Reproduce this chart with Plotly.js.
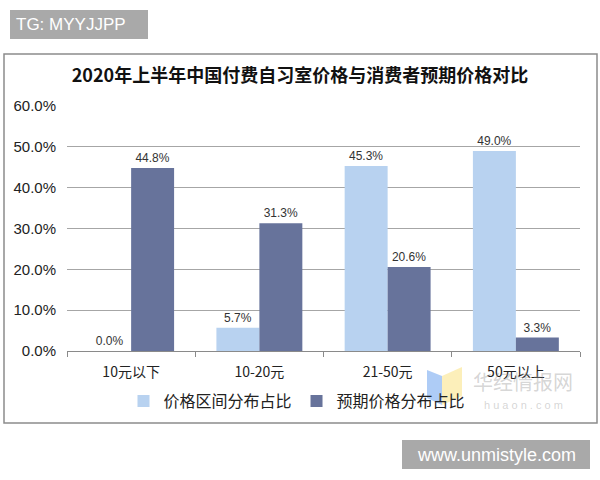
<!DOCTYPE html>
<html>
<head>
<meta charset="utf-8">
<script src="https://cdn.plot.ly/plotly-3.0.1.min.js"></script>
<style>html,body{margin:0;padding:0;background:#fff;}#chart{width:600px;height:480px;}</style>
</head>
<body>
<div id="chart"></div>
<script>
var categories = ["10元以下", "10-20元", "21-50元", "50元以上"];
var seriesNames = ["价格区间分布占比", "预期价格分布占比"];
var priceShare = [0.0, 5.7, 45.3, 49.0];
var expectedShare = [44.8, 31.3, 20.6, 3.3];
var yTicks = [0, 10, 20, 30, 40, 50, 60];
var yTickText = ["0.0%", "10.0%", "20.0%", "30.0%", "40.0%", "50.0%", "60.0%"];

var W = 600, H = 480, L = 67, R = 20, T = 106, B = 129;
var pw = W - L - R, ph = H - T - B;
function px(x) { return (x - L) / pw; }
function py(y) { return (H - B - y) / ph; }

function fmt(v) { return v.toFixed(1) + "%"; }

var traces = [
  {
    type: "bar", name: seriesNames[0], x: categories, y: priceShare,
    marker: {color: "#b8d2f0"},
    text: priceShare.map(fmt), textposition: "outside", cliponaxis: false,
    textfont: {family: "Liberation Sans, Arial, sans-serif", size: 12, color: "#333"}
  },
  {
    type: "bar", name: seriesNames[1], x: categories, y: expectedShare,
    marker: {color: "#67739b"},
    text: expectedShare.map(fmt), textposition: "outside", cliponaxis: false,
    textfont: {family: "Liberation Sans, Arial, sans-serif", size: 12, color: "#333"}
  }
];

var layout = {
  width: W, height: H,
  margin: {l: L, r: R, t: T, b: B},
  paper_bgcolor: "#fff", plot_bgcolor: "#fff",
  barmode: "group", bargap: 0.33, bargroupgap: 0,
  title: {
    text: "<b>2020年上半年中国付费自习室价格与消费者预期价格对比</b>",
    font: {family: "Noto Sans CJK SC, sans-serif", size: 18, color: "#111"},
    x: 0.5, xanchor: "center", xref: "container", y: 1 - 76 / H, yanchor: "middle", yref: "container"
  },
  xaxis: {
    type: "category", showgrid: false, showline: true, linecolor: "#8a8a8a", linewidth: 1,
    ticks: "outside", tickson: "boundaries", ticklen: 5, tickcolor: "#8a8a8a",
    ticklabelstandoff: 8,
    tickfont: {family: "Noto Sans CJK SC, sans-serif", size: 14, color: "#222"},
    fixedrange: true
  },
  yaxis: {
    range: [0, 60], tickvals: yTicks, ticktext: yTickText,
    showgrid: true, gridcolor: "#a6a6a6", gridwidth: 1, zeroline: false, showline: false,
    ticks: "", ticklabelstandoff: 10,
    tickfont: {family: "Liberation Sans, Arial, sans-serif", size: 15, color: "#222"},
    fixedrange: true
  },
  showlegend: true,
  legend: {
    orientation: "h", x: px(297), xanchor: "center", y: py(401), yanchor: "middle",
    font: {family: "Noto Sans CJK SC, sans-serif", size: 16, color: "#222"},
    itemwidth: 30, tracegroupgap: 0, bgcolor: "rgba(0,0,0,0)"
  },
  shapes: [
    {type: "rect", xref: "paper", yref: "paper", x0: px(4), x1: px(597), y0: py(54), y1: py(423),
     line: {color: "#8c8c8c", width: 1.5}, fillcolor: "rgba(0,0,0,0)", layer: "below"},
    {type: "rect", xref: "paper", yref: "paper", x0: px(10), x1: px(148), y0: py(10), y1: py(39),
     line: {width: 0}, fillcolor: "#a9a9a9", layer: "above"},
    {type: "rect", xref: "paper", yref: "paper", x0: px(402), x1: px(590), y0: py(440), y1: py(469),
     line: {width: 0}, fillcolor: "#a9a9a9", layer: "above"},
    {type: "path", xref: "paper", yref: "paper",
     path: "M " + px(427) + "," + py(370) + " L " + px(442) + "," + py(376) + " L " + px(442) + "," + py(405) + " L " + px(427) + "," + py(398) + " Z",
     line: {width: 0}, fillcolor: "rgba(120,170,240,0.6)", layer: "below"},
    {type: "path", xref: "paper", yref: "paper",
     path: "M " + px(442) + "," + py(376) + " L " + px(462) + "," + py(367) + " L " + px(462) + "," + py(396) + " L " + px(442) + "," + py(405) + " Z",
     line: {width: 0}, fillcolor: "rgba(250,228,140,0.6)", layer: "below"}
  ],
  annotations: [
    {xref: "paper", yref: "paper", x: px(14), y: py(24.5), xanchor: "left", yanchor: "middle",
     text: "TG: MYYJJPP", showarrow: false,
     font: {family: "Liberation Sans, Arial, sans-serif", size: 17, color: "#fff"}},
    {xref: "paper", yref: "paper", x: px(496), y: py(454.5), xanchor: "center", yanchor: "middle",
     text: "www.unmistyle.com", showarrow: false,
     font: {family: "Liberation Sans, Arial, sans-serif", size: 18, color: "#fff"}},
    {xref: "paper", yref: "paper", x: px(523), y: py(381), xanchor: "center", yanchor: "middle",
     text: "华经情报网", showarrow: false,
     font: {family: "Noto Sans CJK SC, sans-serif", size: 20, color: "rgba(150,150,150,0.4)"}},
    {xref: "paper", yref: "paper", x: px(523), y: py(405), xanchor: "center", yanchor: "middle",
     text: "h u a o n . c o m", showarrow: false,
     font: {family: "Liberation Sans, Arial, sans-serif", size: 11, color: "rgba(150,150,150,0.4)"}}
  ]
};

Plotly.newPlot("chart", traces, layout, {displayModeBar: false, staticPlot: true});
</script>
</body>
</html>
